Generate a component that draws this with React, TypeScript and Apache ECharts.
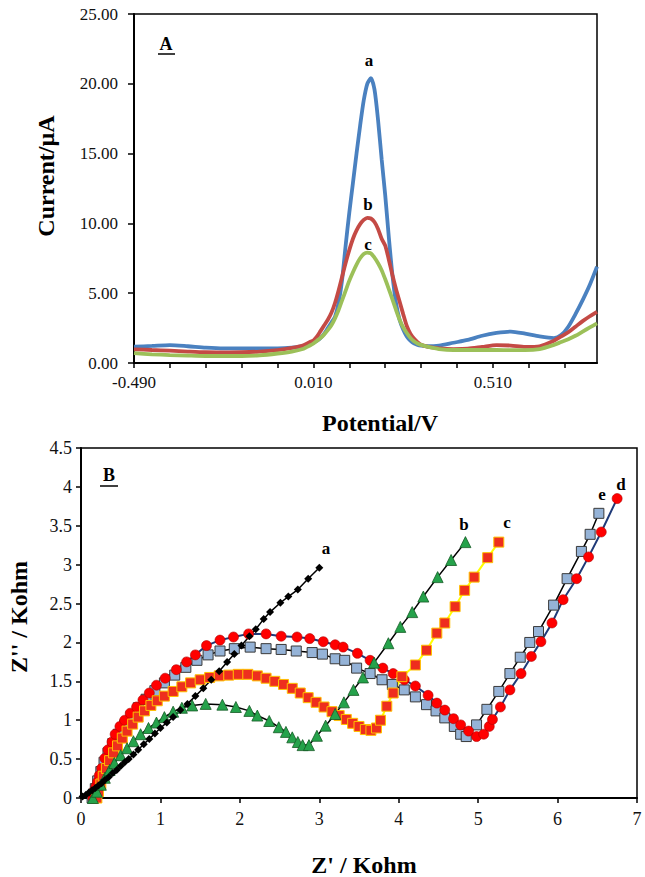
import React, { useEffect, useRef } from "react";
import * as echarts from "echarts";

const SERIF = "Liberation Serif, Times New Roman, serif";

// ---------- Panel A: differential pulse voltammograms ----------
// The sweep starts at -0.490 V; the x axis runs in volts past the start so
// that ticks fall on -0.490, -0.390, ... (0.1 V apart).
const SWEEP_START = -0.49;

const potential = [
  -0.49, -0.44, -0.39, -0.34, -0.29, -0.24, -0.19, -0.14, -0.09, -0.05, -0.02,
  0.0, 0.01, 0.02, 0.03, 0.04, 0.05, 0.06, 0.07, 0.08, 0.09, 0.1, 0.11, 0.12,
  0.13, 0.14, 0.15, 0.16, 0.17, 0.18, 0.19, 0.2, 0.21, 0.22, 0.23, 0.24, 0.25,
  0.26, 0.27, 0.28, 0.29, 0.3, 0.31,
  0.33, 0.36, 0.4, 0.44, 0.48, 0.52, 0.56, 0.6, 0.64, 0.68, 0.7, 0.72, 0.74,
  0.76, 0.78, 0.8,
];

const currentA = [
  1.17, 1.22, 1.28, 1.2, 1.1, 1.05, 1.05, 1.05, 1.05, 1.1, 1.2,
  1.3, 1.45, 1.6, 1.8, 2.1, 2.5, 2.9, 3.3, 4.3, 6.0, 8.5, 10.8, 12.9,
  15.0, 17.0, 18.8, 20.0, 20.4, 19.6, 17.4, 14.6, 12.0, 9.0, 6.3, 4.3, 3.1,
  2.4, 1.9, 1.6, 1.4, 1.3, 1.25,
  1.2, 1.25, 1.45, 1.65, 1.95, 2.15, 2.25, 2.1, 1.9, 1.78, 2.0, 2.6, 3.5,
  4.5, 5.6, 6.9,
];

const currentB = [
  0.98, 0.93, 0.88, 0.82, 0.77, 0.76, 0.77, 0.82, 0.93, 1.08, 1.25,
  1.5, 1.62, 1.9, 2.3, 2.7, 3.1, 3.6, 4.3, 5.2, 6.2, 7.2, 8.1, 8.9,
  9.5, 9.95, 10.25, 10.4, 10.35, 10.1, 9.6, 8.9, 8.4, 7.4, 6.3, 5.3, 4.4,
  3.5, 2.65, 2.1, 1.75, 1.5, 1.3,
  1.15, 1.05, 1.0, 1.02, 1.15, 1.28, 1.25, 1.15, 1.2, 1.6, 1.9, 2.2, 2.6,
  3.0, 3.35, 3.67,
];

const currentC = [
  0.7, 0.62, 0.57, 0.53, 0.5, 0.5, 0.5, 0.55, 0.68, 0.82, 1.0,
  1.25, 1.4, 1.6, 1.8, 2.05, 2.35, 2.7, 3.2, 3.8, 4.5, 5.2, 5.9, 6.5,
  7.05, 7.5, 7.8, 7.9, 7.85, 7.55, 7.15, 6.65, 6.0, 5.3, 4.55, 3.8, 3.1,
  2.55, 2.15, 1.8, 1.55, 1.4, 1.3,
  1.15, 1.0, 0.93, 0.93, 0.93, 0.93, 0.92, 0.92, 1.0, 1.3, 1.5, 1.7, 1.95,
  2.25, 2.55, 2.84,
];

// ---------- Panel B: Nyquist plots (Z' / Z'' in kOhm) ----------
const zreA = [
  0.02, 0.06, 0.1, 0.14, 0.18, 0.22, 0.26, 0.3, 0.35, 0.4, 0.45, 0.5, 0.55,
  0.6, 0.66, 0.72, 0.79, 0.86, 0.93, 1.0, 1.08, 1.16, 1.25, 1.34, 1.44, 1.54,
  1.64, 1.74, 1.84, 1.93, 2.02, 2.12, 2.2, 2.3, 2.38, 2.51, 2.61, 2.73, 2.86, 3.0,
];
const zimA = [
  0.02, 0.04, 0.07, 0.1, 0.13, 0.16, 0.19, 0.23, 0.27, 0.32, 0.36, 0.41, 0.46,
  0.5, 0.56, 0.62, 0.69, 0.76, 0.83, 0.9, 0.97, 1.04, 1.13, 1.21, 1.31, 1.41,
  1.52, 1.63, 1.75, 1.85, 1.96, 2.08, 2.17, 2.3, 2.39, 2.51, 2.59, 2.68, 2.82, 2.96,
];

const zreB = [
  0.15, 0.2, 0.25, 0.3, 0.36, 0.42, 0.5, 0.58, 0.66, 0.75, 0.85, 0.95, 1.05,
  1.16, 1.27, 1.4, 1.57, 1.78, 1.95, 2.12, 2.22, 2.37, 2.49, 2.58, 2.66, 2.73,
  2.79, 2.87, 2.97, 3.08, 3.2, 3.31, 3.43, 3.55, 3.69, 3.87, 4.02, 4.17, 4.31,
  4.49, 4.66, 4.84,
];
const zimB = [
  0.0, 0.08, 0.17, 0.26, 0.36, 0.45, 0.55, 0.64, 0.73, 0.82, 0.9, 0.97, 1.04,
  1.11, 1.16, 1.19, 1.21, 1.2, 1.17, 1.12, 1.06, 0.99, 0.91, 0.85, 0.78, 0.72,
  0.68, 0.68, 0.8, 0.93, 1.08, 1.23, 1.39, 1.55, 1.74, 1.99, 2.2, 2.39, 2.59,
  2.84, 3.06, 3.29,
];

const zreC = [
  0.2, 0.22, 0.25, 0.28, 0.32, 0.36, 0.41, 0.46, 0.52, 0.58, 0.65, 0.72, 0.8,
  0.88, 0.96, 1.05, 1.16, 1.27, 1.38, 1.5, 1.62, 1.74, 1.86, 1.98, 2.1, 2.22,
  2.33, 2.44, 2.55, 2.66, 2.76, 2.86, 2.96, 3.06, 3.16, 3.25, 3.34, 3.42, 3.5,
  3.58, 3.65, 3.72, 3.77, 3.85, 3.93, 4.04, 4.21, 4.35, 4.48, 4.58, 4.71, 4.83,
  4.95, 5.12, 5.26,
];
const zimC = [
  0.0, 0.08, 0.18, 0.28, 0.38, 0.48, 0.58, 0.67, 0.77, 0.86, 0.95, 1.04, 1.12,
  1.19, 1.25, 1.31, 1.37, 1.43, 1.48, 1.52, 1.55, 1.57, 1.58, 1.59, 1.59, 1.57,
  1.54, 1.5, 1.46, 1.41, 1.35, 1.29, 1.23, 1.17, 1.11, 1.06, 1.01, 0.96, 0.92,
  0.88, 0.87, 0.9, 1.0, 1.18, 1.35, 1.56, 1.71, 1.9, 2.12, 2.25, 2.46, 2.67,
  2.84, 3.09, 3.29,
];

const zreD = [
  0.15, 0.16, 0.17, 0.19, 0.21, 0.23, 0.26, 0.3, 0.34, 0.39, 0.43, 0.49, 0.55,
  0.62, 0.7, 0.78, 0.86, 0.95, 1.06, 1.2, 1.33, 1.44, 1.58, 1.75, 1.92, 2.11,
  2.33, 2.52, 2.72, 2.88, 3.05, 3.2, 3.3, 3.48, 3.64, 3.8, 3.93, 4.07, 4.21,
  4.37, 4.48, 4.58, 4.69, 4.78, 4.88, 4.98, 5.07, 5.14, 5.18, 5.28, 5.4, 5.54,
  5.67, 5.79, 5.93, 6.07, 6.24, 6.39, 6.55, 6.75,
];
const zimD = [
  0.0, 0.06, 0.1, 0.15, 0.21, 0.29, 0.38, 0.51, 0.62, 0.72, 0.82, 0.92, 1.0,
  1.09, 1.17, 1.26, 1.35, 1.45, 1.54, 1.65, 1.75, 1.84, 1.96, 2.03, 2.07, 2.11,
  2.11, 2.08, 2.07, 2.05, 2.01, 1.97, 1.94, 1.86, 1.77, 1.67, 1.6, 1.52, 1.44,
  1.32, 1.22, 1.13, 1.02, 0.94, 0.86, 0.79, 0.82, 0.92, 1.01, 1.17, 1.39, 1.6,
  1.82, 2.01, 2.25, 2.55, 2.82, 3.1, 3.42, 3.85,
];

const zreE = [
  0.14, 0.16, 0.18, 0.21, 0.25, 0.29, 0.34, 0.4, 0.47, 0.55, 0.63, 0.72, 0.82,
  0.93, 1.05, 1.18, 1.32, 1.46, 1.6, 1.75, 1.93, 2.13, 2.33, 2.52, 2.71, 2.91,
  3.04, 3.2, 3.32, 3.47, 3.64, 3.79, 3.92, 4.07, 4.21, 4.35, 4.47, 4.58, 4.7,
  4.78, 4.85, 4.98, 5.11, 5.26, 5.4, 5.53, 5.65, 5.76, 5.95, 6.12, 6.3, 6.41,
  6.52,
];
const zimE = [
  0.0, 0.05, 0.12, 0.22, 0.34, 0.46, 0.58, 0.7, 0.82, 0.94, 1.05, 1.16, 1.27,
  1.38, 1.48, 1.58, 1.68, 1.77, 1.84, 1.89, 1.92, 1.94, 1.92, 1.91, 1.89, 1.87,
  1.85, 1.79, 1.77, 1.67, 1.6, 1.52, 1.46, 1.39, 1.3, 1.2, 1.12, 1.03, 0.92,
  0.82, 0.79, 0.94, 1.14, 1.37, 1.6, 1.81, 2.0, 2.14, 2.48, 2.82, 3.17, 3.39,
  3.66,
];

const zip = (xs: number[], ys: number[]) => xs.map((x, i) => [x, ys[i]]);
const sweep = (ys: number[]) =>
  potential.map((p, i) => [+(p - SWEEP_START).toFixed(3), ys[i]]);

// Cross drawn on top of the red squares of trace c
const CROSS =
  "path://M0,0 L2,0 L10,8 L10,10 L8,10 L0,2 Z M8,0 L10,0 L10,2 L2,10 L0,10 L0,8 Z";

const tickLabel = (size: number) => ({
  color: "#111",
  fontFamily: SERIF,
  fontSize: size,
});

function buildOption(): echarts.EChartsCoreOption {
  const axisLine = { show: true, lineStyle: { color: "#000", width: 2 } };
  const axisTick = (len: number) => ({
    show: true,
    inside: false,
    length: len,
    lineStyle: { color: "#000", width: 1.5 },
  });

  const text = (
    t: string,
    x: number,
    y: number,
    size: number,
    extra: Record<string, unknown> = {}
  ) => ({
    type: "text",
    x,
    y,
    z: 100,
    ...extra,
    style: {
      text: t,
      fontFamily: SERIF,
      fontWeight: "bold",
      fontSize: size,
      fill: "#000",
      align: "center",
      verticalAlign: "middle",
      textAlign: "center",
      textVerticalAlign: "middle",
    },
  });
  const rule = (x1: number, x2: number, y: number) => ({
    type: "line",
    z: 100,
    shape: { x1, y1: y, x2, y2: y },
    style: { stroke: "#000", lineWidth: 1.5 },
  });

  const peakLine = (data: number[], color: string) => ({
    type: "line",
    xAxisIndex: 0,
    yAxisIndex: 0,
    data: sweep(data),
    symbol: "none",
    smooth: 0.25,
    lineStyle: { color, width: 3.8 },
  });

  return {
    animation: false,
    backgroundColor: "#fff",
    textStyle: { fontFamily: SERIF },
    grid: [
      {
        left: 134,
        top: 14,
        width: 463,
        height: 349,
        show: true,
        borderColor: "#000",
        borderWidth: 1.5,
      },
      {
        left: 81,
        top: 448,
        width: 556,
        height: 350,
        show: true,
        borderColor: "#000",
        borderWidth: 1.5,
      },
    ],
    xAxis: [
      {
        type: "value",
        gridIndex: 0,
        min: 0,
        max: 1.29,
        interval: 0.1,
        axisLine,
        axisTick: axisTick(5),
        splitLine: { show: false },
        axisLabel: {
          ...tickLabel(17),
          margin: 11,
          showMaxLabel: false,
          formatter: (v: number) => {
            const k = Math.round(v * 10);
            return k % 5 === 0 ? (k / 10 + SWEEP_START).toFixed(3) : "";
          },
        },
      },
      {
        type: "value",
        gridIndex: 1,
        min: 0,
        max: 7,
        interval: 1,
        axisLine,
        axisTick: axisTick(5),
        splitLine: { show: false },
        axisLabel: { ...tickLabel(18), margin: 12 },
      },
    ],
    yAxis: [
      {
        type: "value",
        gridIndex: 0,
        min: 0,
        max: 25,
        interval: 5,
        axisLine,
        axisTick: axisTick(6),
        splitLine: { show: false },
        axisLabel: {
          ...tickLabel(17),
          margin: 16,
          formatter: (v: number) => v.toFixed(2),
        },
      },
      {
        type: "value",
        gridIndex: 1,
        min: 0,
        max: 4.5,
        interval: 0.5,
        axisLine,
        axisTick: axisTick(5),
        splitLine: { show: false },
        axisLabel: { ...tickLabel(18), margin: 9 },
      },
    ],
    series: [
      peakLine(currentA, "#4A81C0"),
      peakLine(currentB, "#C44A45"),
      peakLine(currentC, "#9CC059"),
      {
        name: "e",
        type: "line",
        xAxisIndex: 1,
        yAxisIndex: 1,
        data: zip(zreE, zimE),
        symbol: "rect",
        symbolSize: 10,
        itemStyle: { color: "#95B3D7", borderColor: "#3A3A3A", borderWidth: 1 },
        lineStyle: { color: "#000", width: 1.5 },
      },
      {
        name: "d",
        type: "line",
        xAxisIndex: 1,
        yAxisIndex: 1,
        data: zip(zreD, zimD),
        symbol: "circle",
        symbolSize: 10,
        itemStyle: { color: "#FF0000", borderColor: "#B00000", borderWidth: 0.6 },
        lineStyle: { color: "#1F3A78", width: 2 },
      },
      {
        name: "c",
        type: "line",
        xAxisIndex: 1,
        yAxisIndex: 1,
        data: zip(zreC, zimC),
        symbol: "rect",
        symbolSize: 10,
        itemStyle: { color: "#EE2E1E", borderColor: "#FFC000", borderWidth: 1 },
        lineStyle: { color: "#FFFF00", width: 2 },
      },
      {
        name: "c-cross",
        type: "scatter",
        xAxisIndex: 1,
        yAxisIndex: 1,
        data: zip(zreC, zimC),
        symbol: CROSS,
        symbolSize: 8,
        itemStyle: { color: "#FFE600" },
      },
      {
        name: "b",
        type: "line",
        xAxisIndex: 1,
        yAxisIndex: 1,
        data: zip(zreB, zimB),
        symbol: "triangle",
        symbolSize: 11,
        itemStyle: { color: "#25A24B", borderColor: "#145A25", borderWidth: 0.8 },
        lineStyle: { color: "#000", width: 1.5 },
      },
      {
        name: "a",
        type: "line",
        xAxisIndex: 1,
        yAxisIndex: 1,
        data: zip(zreA, zimA),
        symbol: "diamond",
        symbolSize: 8,
        itemStyle: { color: "#000" },
        lineStyle: { color: "#000", width: 1.5 },
      },
    ],
    graphic: [
      // panel A
      text("A", 166, 44, 18),
      rule(158, 175, 54),
      text("a", 369, 60, 17),
      text("b", 368, 204, 17),
      text("c", 368, 244, 17),
      text("Current/\u00b5A", 46, 176, 24, { rotation: Math.PI / 2 }),
      text("Potential/V", 380, 423, 24),
      // panel B
      text("B", 109, 475, 18),
      rule(100, 118, 486),
      text("a", 326, 548, 17),
      text("b", 464, 524, 17),
      text("c", 507, 522, 17),
      text("e", 602, 494, 17),
      text("d", 621, 484, 17),
      text("Z'' / Kohm", 19, 617, 24, { rotation: Math.PI / 2 }),
      text("Z' / Kohm", 364, 865, 24),
    ],
  };
}

export default function App() {
  const ref = useRef<HTMLDivElement>(null);

  useEffect(() => {
    if (!ref.current) return;
    const chart = echarts.init(ref.current, undefined, { renderer: "svg" });
    chart.setOption(buildOption());
    return () => chart.dispose();
  }, []);

  return (
    <div
      ref={ref}
      style={{
        position: "fixed",
        left: 0,
        top: 0,
        width: 645,
        height: 877,
        background: "#fff",
      }}
    />
  );
}
